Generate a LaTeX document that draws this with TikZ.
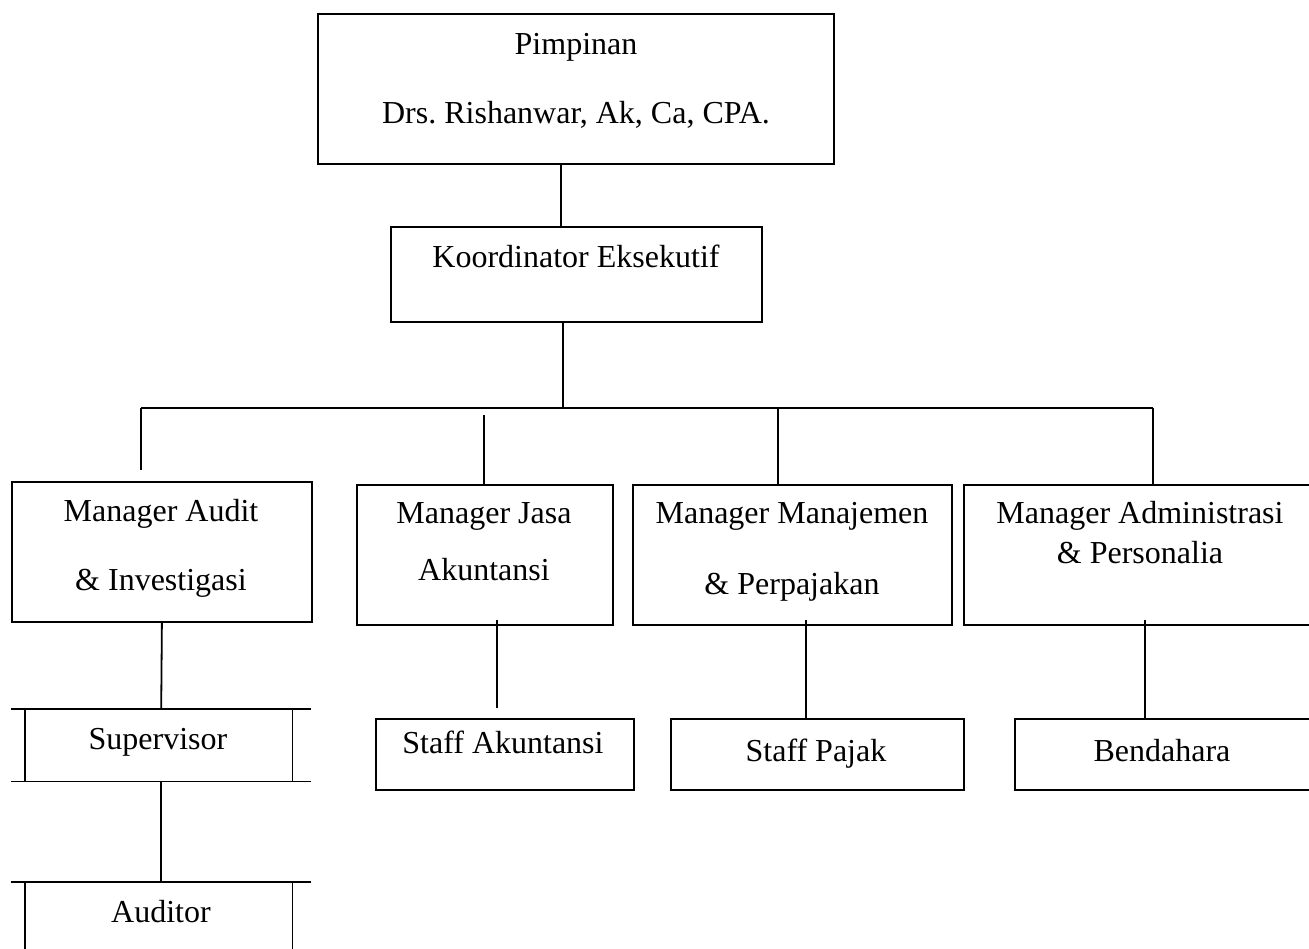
\documentclass[tikz,border=0pt]{standalone}
\usepackage{fontspec}
\setmainfont{Liberation Serif}
\usetikzlibrary{calc}
\frenchspacing
\begin{document}
\begin{tikzpicture}[x=1pt,y=-1pt,
  box/.style={draw, line width=1.8pt, rectangle, inner sep=0pt, anchor=north west},
  frame/.style={rectangle, inner sep=0pt, anchor=north west},
  lbl/.style={font=\fontsize{32}{38}\selectfont, inner sep=0pt, anchor=mid},
  conn/.style={line width=1.8pt}]
\useasboundingbox[fill=white] (0,0) rectangle (1309,949);

% boxes
\node[box, minimum width=516pt, minimum height=150pt] (pim) at (317,13) {};
\node[box, minimum width=371pt, minimum height=95pt] (koor) at (390,226) {};
\node[box, minimum width=300pt, minimum height=140pt] (ma) at (11,481) {};
\node[box, minimum width=256pt, minimum height=140pt] (mj) at (356,484) {};
\node[box, minimum width=319pt, minimum height=140pt] (mm) at (632,484) {};
\node[box, minimum width=360pt, minimum height=140pt] (md) at (963,484) {};
\node[box, minimum width=258pt, minimum height=71pt] (sa) at (375,718) {};
\node[box, minimum width=293pt, minimum height=71pt] (sp) at (670,718) {};
\node[box, minimum width=310pt, minimum height=71pt] (bd) at (1014,718) {};
\node[frame, minimum width=300pt, minimum height=72pt] (sup) at (11,709) {};
\node[frame, minimum width=300pt, minimum height=90pt] (aud) at (11,882) {};

% supervisor / auditor shapes
\draw[conn] (sup.north west) -- (sup.north east);
\draw[conn] (sup.south west) -- (sup.south east);
\draw[conn] ([xshift=14pt]sup.north west) -- ([xshift=14pt]sup.south west);
\draw[conn] ([xshift=-19pt]sup.north east) -- ([xshift=-19pt]sup.south east);
\draw[conn] (aud.north west) -- (aud.north east);
\draw[conn] ([xshift=14pt]aud.north west) -- ([xshift=14pt]aud.south west);
\draw[conn] ([xshift=-19pt]aud.north east) -- ([xshift=-19pt]aud.south east);

% labels
\node[lbl] (t1) at (576,52) {Pimpinan};
\node[lbl] (t2) at (576,121) {Drs. Rishanwar, Ak, Ca, CPA.};
\node[lbl] (t3) at (576,265) {Koordinator Eksekutif};
\node[lbl] (t4) at (161,519) {Manager Audit};
\node[lbl] (t5) at (161,588) {\& Investigasi};
\node[lbl] (t6) at (484,521) {Manager Jasa};
\node[lbl] (t7) at (484,578) {Akuntansi};
\node[lbl] (t8) at (792,521) {Manager Manajemen};
\node[lbl] (t9) at (792,592) {\& Perpajakan};
\node[lbl] (t10) at (1140,521) {Manager Administrasi};
\node[lbl] (t11) at (1140,561) {\& Personalia};
\node[lbl] (t12) at (158,747) {Supervisor};
\node[lbl] (t13) at (161,920) {Auditor};
\node[lbl] (t14) at (503,751) {Staff Akuntansi};
\node[lbl] (t15) at (816,759) {Staff Pajak};
\node[lbl] (t16) at (1162,759) {Bendahara};

% bus coordinates
\coordinate (bus) at (563,408);
\coordinate (busL) at (141,408);
\coordinate (busR) at (1153,408);
\coordinate (dropA) at (141,470);

% connectors
\draw[conn] ([xshift=-15pt]pim.south) -- ([xshift=-15pt]pim.south |- koor.north);
\draw[conn] (koor.south -| bus) -- (bus);
\draw[conn] (busL) -- (busR);
\draw[conn] (busL) -- (dropA);
\draw[conn] ([xshift=-1pt]mj.north) -- ++(0,-69);
\draw[conn] ([xshift=-14.5pt]mm.north) -- ([xshift=-14.5pt]mm.north |- bus);
\draw[conn] (busR) -- (busR |- md.north);
\draw[conn] (ma.south) -- (sup.north);
\draw[conn] (sup.south) -- (aud.north);
\draw[conn] ($(sa.north)+(-8,-10)$) -- ($(mj.south)+(12,-6)$);
\draw[conn] ([xshift=-11.5pt]sp.north) -- ($([xshift=-11.5pt]sp.north |- mm.south)+(0,-6)$);
\draw[conn] ($(bd.north west)+(131,0)$) -- ($(bd.north west |- md.south)+(131,-6)$);
\end{tikzpicture}
\end{document}
